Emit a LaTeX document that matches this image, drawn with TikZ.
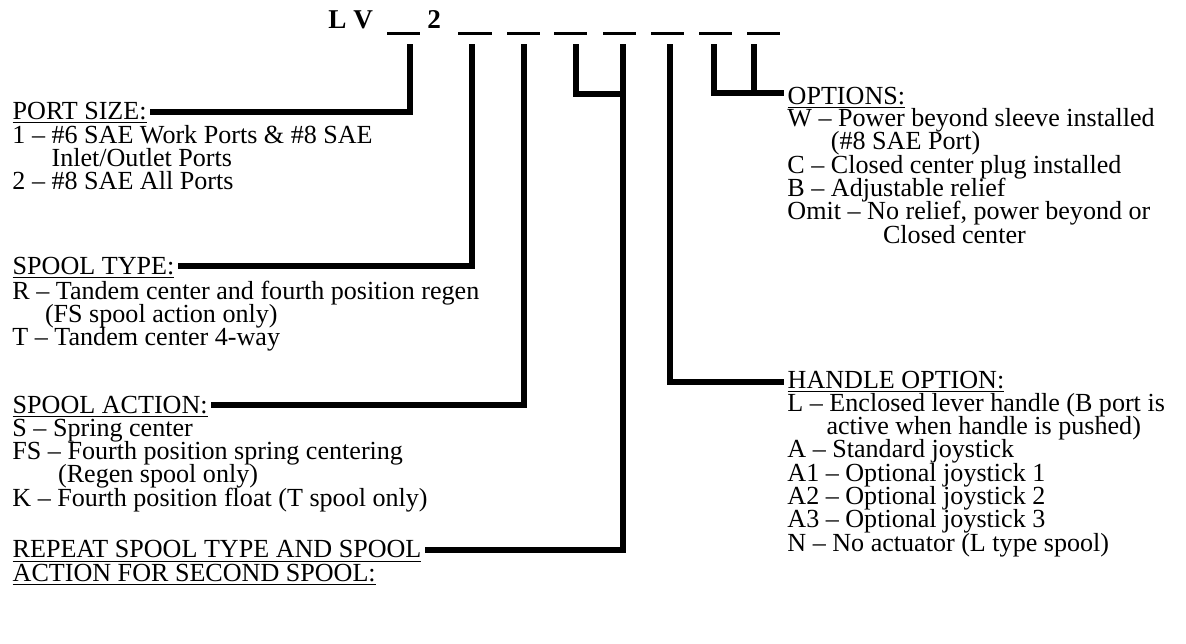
\documentclass[tikz,border=0pt]{standalone}
\usepackage{fontspec}
\setmainfont{Liberation Serif}
\usetikzlibrary{positioning}
\newcommand\tightlines{\lineskiplimit=-20pt\relax}

\begin{document}
\begin{tikzpicture}[x=0.46pt,y=-0.46pt,
  txt/.style={font=\fontsize{12}{10.7}\selectfont\tightlines,inner sep=0pt,align=left,anchor=base west},
  head/.style={txt,inner xsep=1.5pt},
  code/.style={font=\fontsize{12.5}{14}\selectfont\bfseries,inner sep=0pt,anchor=base west},
  blank/.style={line width=1.3pt},
  bar/.style={line width=3.2pt,line join=miter}]
\useasboundingbox (0,0) rectangle (1186,643);

% model code
\node[code] (lv) at (328,28) {L V};
\node[code] (two) at (427,28) {2};
\foreach \a/\b in {387/420,458/492,507/540,554/587,603/636,651/684,699/732,747/780}
  \draw[blank] (\a,33.5) -- (\b,33.5);
\foreach \x [count=\i] in {410,472,524,576,623,670,714,754}
  \coordinate (t\i) at (\x,44);

% left column (list nodes sit on their last baseline)
\node[head] (port) at (9,119) {\underline{PORT SIZE:}};
\node[txt] (portlist) at (12,189.6) {1 -- \#6 SAE Work Ports \& \#8 SAE\\
  \hspace*{18pt}Inlet/Outlet Ports\\
  2 -- \#8 SAE All Ports};
\node[head] (stype) at (9,274) {\underline{SPOOL TYPE:}};
\node[txt] (stypelist) at (12,345.6) {R -- Tandem center and fourth position regen\\
  \hspace*{15pt}(FS spool action only)\\
  T -- Tandem center 4-way};
\node[head] (saction) at (9,413) {\underline{SPOOL ACTION:}};
\node[txt] (sactionlist) at (12,506) {S -- Spring center\\
  FS -- Fourth position spring centering\\
  \hspace*{21pt}(Regen spool only)\\
  K -- Fourth position float (T spool only)};
\node[head] (rep) at (9,581) {\underline{REPEAT SPOOL TYPE AND SPOOL}\\
  \underline{ACTION FOR SECOND SPOOL:}};

% right column
\node[head] (opts) at (784,104) {\underline{OPTIONS:}};
\node[txt] (optslist) at (787,243) {W -- Power beyond sleeve installed\\
  \hspace*{20pt}(\#8 SAE Port)\\
  C -- Closed center plug installed\\
  B -- Adjustable relief\\
  Omit -- No relief, power beyond or\\
  \hspace*{44pt}Closed center};
\node[head] (hand) at (784,388) {\underline{HANDLE OPTION:}};
\node[txt] (handlist) at (787,551) {L -- Enclosed lever handle (B port is\\
  \hspace*{18pt}active when handle is pushed)\\
  A -- Standard joystick\\
  A1 -- Optional joystick 1\\
  A2 -- Optional joystick 2\\
  A3 -- Optional joystick 3\\
  N -- No actuator (L type spool)};

% leader bars
\draw[bar] (t1) |- (port.east |- 0,112);
\draw[bar] (t2) |- (stype.east |- 0,266);
\draw[bar] (t3) |- (saction.east |- 0,405);
\draw[bar] (t4) |- (t5 |- 0,94);
\draw[bar] (t5) |- (rep.east |- 0,550);
\draw[bar] (t6) |- (hand.west |- 0,382);
\draw[bar] (t7) |- (opts.west |- 0,93);
\draw[bar] (t8) -- (t8 |- 0,93);
\end{tikzpicture}
\end{document}
